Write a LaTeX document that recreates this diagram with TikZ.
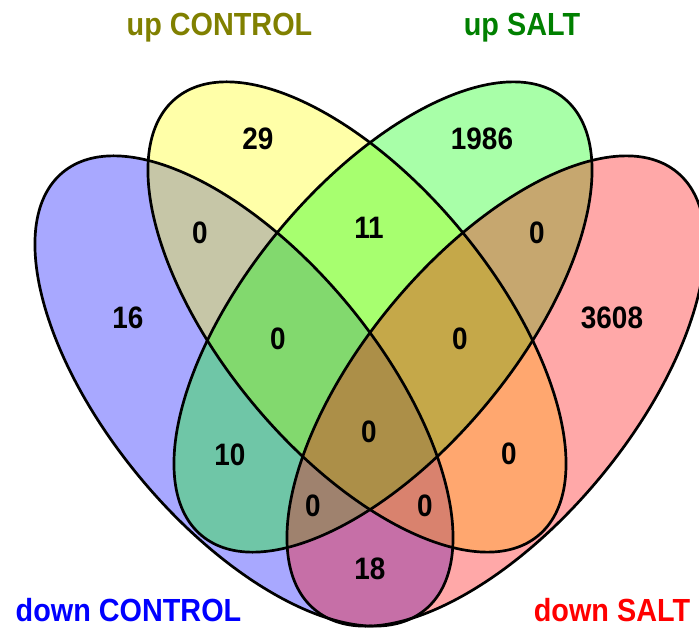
\documentclass[tikz,border=0pt]{standalone}
\usepackage{fontspec}
\setmainfont{Liberation Sans}
\definecolor{olivetxt}{RGB}{128,128,0}
\definecolor{greentxt}{RGB}{0,128,0}
\definecolor{bluefill}{RGB}{0,0,255}
\definecolor{yellowfill}{RGB}{255,255,0}
\definecolor{greenfill}{RGB}{0,255,0}
\definecolor{redfill}{RGB}{255,0,0}
\newcommand\cndtxt[1]{\scalebox{0.9}[1]{#1}}
\tikzset{
  setfill/.style={fill=#1, fill opacity=0.34, draw=none},
  setline/.style={draw=black, line width=2.7pt},
  num/.style={font=\fontsize{31}{31}\selectfont\bfseries, inner sep=0pt},
  setlabel/.style={font=\fontsize{32}{32}\selectfont\bfseries, inner sep=0pt, anchor=base},
}
\begin{document}
\begin{tikzpicture}[x=1pt,y=1pt]
\useasboundingbox (0,0) rectangle (699,631);
\clip (0,0) rectangle (699,631);
\coordinate (cb) at (244,240);
\coordinate (cy) at (357,314);
\coordinate (cg) at (383,314);
\coordinate (cr) at (496,240);
% fills
\path[setfill=bluefill, rotate around={-50.35:(cb)}] (cb) ellipse (284 and 135.3);
\path[setfill=yellowfill, rotate around={-50.35:(cy)}] (cy) ellipse (284 and 135.3);
\path[setfill=greenfill, rotate around={50.35:(cg)}] (cg) ellipse (284 and 135.3);
\path[setfill=redfill, rotate around={50.35:(cr)}] (cr) ellipse (284 and 135.3);
% outlines
\draw[setline, rotate around={-50.35:(cb)}] (cb) ellipse (284 and 135.3);
\draw[setline, rotate around={-50.35:(cy)}] (cy) ellipse (284 and 135.3);
\draw[setline, rotate around={50.35:(cg)}] (cg) ellipse (284 and 135.3);
\draw[setline, rotate around={50.35:(cr)}] (cr) ellipse (284 and 135.3);
% counts
\node[num] (n29) at (258,492) {\cndtxt{29}};
\node[num] (n1986) at (482,492) {\cndtxt{1986}};
\node[num] (nby) at (200,398) {\cndtxt{0}};
\node[num] (n11) at (369,403) {\cndtxt{11}};
\node[num] (ngr) at (537,398) {\cndtxt{0}};
\node[num] (n16) at (128,313) {\cndtxt{16}};
\node[num] (nbyg) at (278,292) {\cndtxt{0}};
\node[num] (nygr) at (460,292) {\cndtxt{0}};
\node[num] (n3608) at (612,313) {\cndtxt{3608}};
\node[num] (n10) at (230,176) {\cndtxt{10}};
\node[num] (nall) at (369,199) {\cndtxt{0}};
\node[num] (nyr) at (509,177) {\cndtxt{0}};
\node[num] (nbgr) at (313,125) {\cndtxt{0}};
\node[num] (nbyr) at (425,125) {\cndtxt{0}};
\node[num] (n18) at (370,62) {\cndtxt{18}};
% set labels
\node[setlabel, text=olivetxt] (lupc) at (219.5,595) {\cndtxt{up CONTROL}};
\node[setlabel, text=greentxt] (lups) at (522,595) {\cndtxt{up SALT}};
\node[setlabel, text=blue] (ldc) at (128.5,9) {\cndtxt{down CONTROL}};
\node[setlabel, text=red] (lds) at (612,9) {\cndtxt{down SALT}};
\end{tikzpicture}
\end{document}
